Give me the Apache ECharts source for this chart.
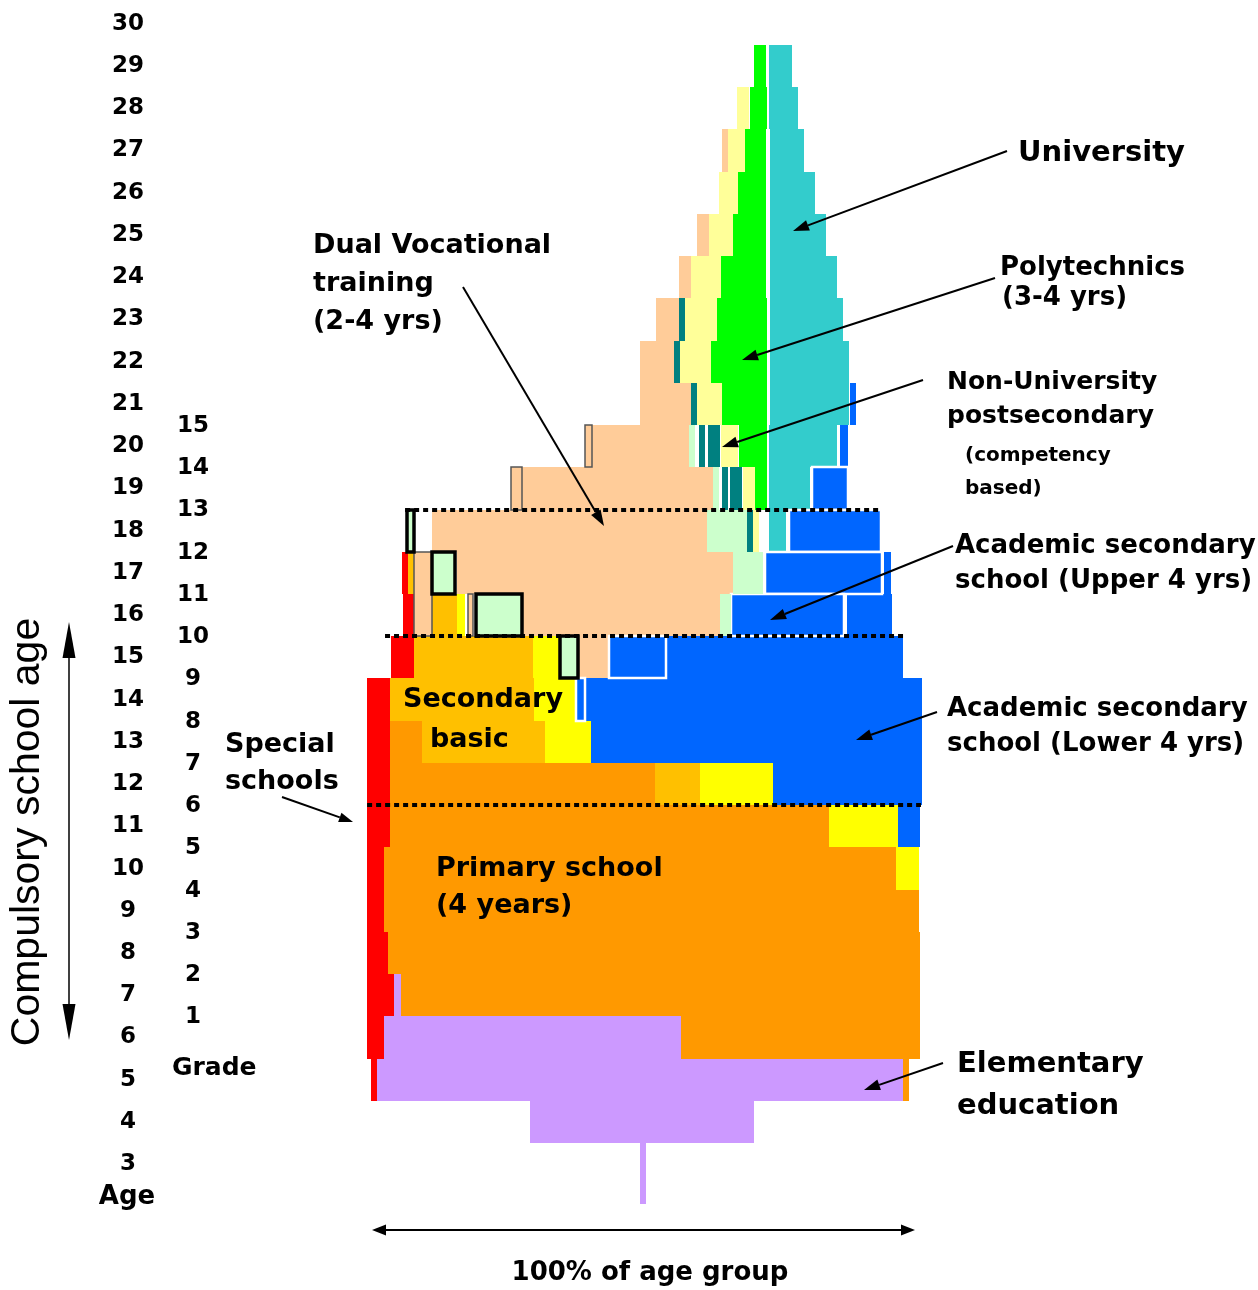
<!DOCTYPE html>
<html>
<head>
<meta charset="utf-8">
<script src="https://cdn.jsdelivr.net/npm/echarts@6.0.0/dist/echarts.min.js"></script>
<style>
  html, body { margin: 0; padding: 0; background: #fff; }
  #chart { width: 1258px; height: 1290px; }
</style>
</head>
<body>
<div id="chart"></div>
<script>
// age rows and grade labels
var ages = [3, 4, 5, 6, 7, 8, 9, 10, 11, 12, 13, 14, 15, 16, 17, 18, 19, 20, 21, 22, 23, 24, 25, 26, 27, 28, 29, 30]
var grades = [1, 2, 3, 4, 5, 6, 7, 8, 9, 10, 11, 12, 13, 14, 15]

// segments: [age, from %, to %, rows spanned (default 1), border]
// border: 'w' white frame, 'k' black frame, 'g' thin grey frame
var specialSchools = [
  [17, 5.5, 6.6], [16, 5.7, 8.8], [15, 3.5, 7.7], [14, -0.9, 3.3], [13, -0.9, 3.3],
  [12, -0.9, 3.3], [11, -0.9, 3.3], [10, -0.9, 2.2], [9, -0.9, 2.2], [8, -0.9, 2.9],
  [7, -0.9, 4.1], [6, -0.9, 2.2], [5, -0.2, 0.9]
]
var primarySchool = [
  [13, 3.3, 9.3], [12, 3.3, 52.1], [11, 3.3, 84.2], [10, 2.2, 96.5], [9, 2.2, 100.7],
  [8, 2.9, 100.9], [7, 5.3, 100.9], [6, 56.9, 100.9], [5, 97.8, 98.9]
]
var secondaryBasic = [
  [17, 6.6, 7.7], [16, 8.8, 15.7], [15, 7.7, 29.7], [14, 3.3, 29.8], [13, 9.3, 31.9], [12, 52.1, 60.4]
]
var secondaryOther = [
  [16, 15.7, 17.1], [15, 29.7, 34.4], [14, 29.8, 37.6], [13, 31.9, 40.3], [12, 60.4, 73.8],
  [11, 84.2, 96.9], [10, 96.5, 100.7]
]
var academicSecondary = [
  [21, 88.0, 89.1], [20, 86.2, 87.7], [17, 94.3, 95.6], [16, 87.5, 95.8], [15, 54.2, 97.8],
  [14, 39.2, 101.2], [13, 40.3, 101.2], [12, 73.8, 101.2], [11, 96.9, 100.9],
  [19, 81.0, 87.7, 1, 'w'], [18, 76.8, 93.7, 1, 'w'], [17, 72.4, 93.9, 1, 'w'],
  [16, 66.1, 86.9, 1, 'w'], [15, 43.6, 54.2, 1, 'w'], [14, 37.6, 39.2, 1, 'w']
]
var dualVocational = [
  [27, 64.5, 65.6], [25, 59.9, 62.1], [24, 56.5, 58.8], [23, 52.3, 56.5], [22, 49.4, 55.6],
  [21, 49.4, 58.8], [20, 40.5, 58.4], [19, 27.6, 62.8], [18, 11.0, 61.7], [17, 15.7, 66.5],
  [16, 27.6, 64.1], [15, 37.9, 43.6],
  [20, 39.2, 40.5, 1, 'g'], [19, 25.6, 27.6, 1, 'g'], [17, 7.7, 11.0, 2, 'g'], [16, 17.7, 18.6, 1, 'g']
]
var postsecOther = [
  [28, 67.2, 69.4], [27, 65.6, 68.7], [26, 63.9, 67.4], [25, 62.1, 66.5], [24, 58.8, 64.3],
  [23, 57.6, 63.5], [22, 56.7, 62.4], [21, 59.9, 64.5], [20, 64.3, 67.4], [19, 68.3, 70.5],
  [18, 70.2, 71.3]
]
var polytechnics = [
  [29, 70.3, 72.5], [28, 69.6, 72.7], [27, 68.7, 72.6], [26, 67.4, 72.6], [25, 66.5, 72.6],
  [24, 64.3, 72.6], [23, 63.5, 72.7], [22, 62.4, 72.7], [21, 64.5, 72.7], [20, 67.6, 72.7],
  [19, 70.5, 72.7]
]
var university = [
  [29, 73.1, 77.3], [28, 73.1, 78.5], [27, 73.3, 79.6], [26, 73.3, 81.6], [25, 73.3, 83.6],
  [24, 73.3, 85.6], [23, 73.3, 86.7], [22, 73.3, 87.8], [21, 73.3, 87.8], [20, 73.1, 85.6],
  [19, 73.1, 80.7], [18, 73.1, 76.2]
]
var nonUniversity = [
  [23, 56.5, 57.6], [22, 55.6, 56.7], [21, 58.8, 59.9], [20, 60.2, 61.3], [20, 61.9, 64.1],
  [19, 64.5, 65.6], [19, 65.9, 68.1], [18, 69.1, 70.2]
]
var bridging = [
  [20, 58.4, 59.5], [19, 62.8, 63.9], [18, 61.7, 69.1], [17, 66.5, 72.0], [16, 64.1, 66.1],
  [18, 6.5, 7.7, 1, 'k'], [17, 11.0, 15.3, 1, 'k'], [16, 19.2, 27.6, 1, 'k'], [15, 34.6, 37.9, 1, 'k']
]
var elementary = [
  [7, 4.1, 5.3], [6, 2.2, 56.9], [5, 0.9, 97.8], [4, 29.1, 70.3], [3, 49.4, 50.5, 1.45]
]
// dotted transitions: [row boundary age, from %, to %]
var transitions = [[18.5, 6.1, 93.6], [15.5, 2.4, 97.8], [11.5, -0.9, 101.1]]

var font = '"DejaVu Sans", sans-serif'

// draw one block per segment, snapped to whole pixels so rows join without seams
function blockRenderer (rows) {
  return function (params, api) {
    var r = rows[params.dataIndex]
    var span = r[3] || 1
    var p0 = api.coord([r[1], r[0] + 0.5])
    var p1 = api.coord([r[2], r[0] + 0.5 - span])
    var x0 = Math.round(p0[0])
    var y0 = Math.round(p0[1])
    var x1 = Math.round(p1[0])
    var y1 = Math.round(p1[1])
    var style = { fill: api.visual('color') }
    if (r[4] === 'w') { style.stroke = '#fff'; style.lineWidth = 2.5 }
    if (r[4] === 'k') { style.stroke = '#000'; style.lineWidth = 3.5 }
    if (r[4] === 'g') { style.stroke = '#555'; style.lineWidth = 1.5 }
    return {
      type: 'rect',
      shape: { x: x0, y: y0, width: x1 - x0, height: y1 - y0 },
      style: style,
      z2: r[4] ? 5 : 0
    }
  }
}

function blockSeries (name, color, rows, z) {
  return {
    type: 'custom',
    name: name,
    renderItem: blockRenderer(rows),
    itemStyle: { color: color },
    encode: { x: [0, 2], y: 1 },
    data: rows.map(function (r) { return [r[1], r[0], r[2]] }),
    z: z,
    silent: true,
    animation: false
  }
}

// arrow drawn in pixels for the annotation pointers
function arrow (x1, y1, x2, y2, lw, head, wide) {
  var a = Math.atan2(y2 - y1, x2 - x1)
  var bx = x2 - head * Math.cos(a)
  var by = y2 - head * Math.sin(a)
  var nx = -Math.sin(a) * wide / 2
  var ny = Math.cos(a) * wide / 2
  return [
    { type: 'line', z: 100, shape: { x1: x1, y1: y1, x2: bx, y2: by }, style: { stroke: '#000', lineWidth: lw } },
    { type: 'polygon', z: 100, shape: { points: [[x2, y2], [bx + nx, by + ny], [bx - nx, by - ny]] }, style: { fill: '#000' } }
  ]
}

function label (text, x, y, size, align, weight) {
  return {
    type: 'text', z: 100, x: x, y: y,
    style: {
      text: text, fill: '#000',
      font: (weight || 'bold') + ' ' + size + 'px ' + font,
      align: align || 'left', verticalAlign: 'middle',
      textAlign: align || 'left', textVerticalAlign: 'middle'
    }
  }
}

var texts = [
  label('University', 1018, 153, 29),
  label('Polytechnics', 1000, 268, 26),
  label('(3-4 yrs)', 1002, 298, 26),
  label('Non-University', 947, 382, 25),
  label('postsecondary', 947, 416, 25),
  label('(competency', 965, 456, 20),
  label('based)', 965, 489, 20),
  label('Academic secondary', 955, 546, 26),
  label('school (Upper 4 yrs)', 955, 581, 26),
  label('Academic secondary', 947, 709, 26),
  label('school (Lower 4 yrs)', 947, 744, 26),
  label('Elementary', 957, 1064, 29),
  label('education', 957, 1106, 29),
  label('Dual Vocational', 313, 246, 27),
  label('training', 313, 284, 27),
  label('(2-4 yrs)', 313, 322, 27),
  label('Secondary', 403, 700, 27),
  label('basic', 430, 740, 27),
  label('Primary school', 436, 869, 27),
  label('(4 years)', 436, 906, 27),
  label('Special', 225, 745, 27),
  label('schools', 225, 782, 27),
  label('Grade', 172, 1068, 25),
  label('Age', 127, 1197, 26, 'center'),
  label('100% of age group', 650, 1273, 26, 'center'),
  {
    type: 'text', z: 100, x: 28, y: 832, rotation: Math.PI / 2,
    style: {
      text: 'Compulsory school age', fill: '#000', font: '41px "Liberation Sans", sans-serif',
      align: 'center', verticalAlign: 'middle', textAlign: 'center', textVerticalAlign: 'middle'
    }
  }
]

var pointers = [].concat(
  arrow(1007, 151, 793, 231, 2, 16, 11),
  arrow(995, 278, 742, 360, 2, 16, 11),
  arrow(923, 380, 722, 447, 2, 16, 11),
  arrow(953, 546, 770, 620, 2, 16, 11),
  arrow(937, 712, 856, 740, 2, 16, 11),
  arrow(943, 1063, 864, 1090, 2, 16, 11),
  arrow(463, 287, 604, 526, 2, 16, 11),
  arrow(282, 797, 353, 822, 2, 14, 10),
  arrow(69, 831, 69, 622, 1.5, 36, 13),
  arrow(69, 831, 69, 1040, 1.5, 36, 13),
  arrow(643, 1230, 372, 1230, 2, 14, 11),
  arrow(643, 1230, 915, 1230, 2, 14, 11)
)

var chart = echarts.init(document.getElementById('chart'), null, { renderer: 'canvas' })

var option = {
  animation: false,
  backgroundColor: '#fff',
  grid: { left: 372, top: 23.74, width: 543, height: 1182.72, containLabel: false, outerBoundsMode: 'none' },
  xAxis: {
    type: 'value', min: 0, max: 100,
    show: false
  },
  yAxis: {
    type: 'value', min: 2, max: 30, interval: 1,
    axisLine: { show: false },
    axisTick: { show: false },
    splitLine: { show: false },
    axisLabel: {
      margin: 244,
      align: 'center',
      padding: [0, 0, 8, 0],
      color: '#000',
      fontFamily: font,
      fontWeight: 'bold',
      fontSize: 23,
      formatter: function (v) { return ages.indexOf(v) >= 0 ? String(v) : '' }
    }
  },
  graphic: { elements: texts.concat(pointers) },
  series: [
    blockSeries('Elementary education', '#cc99ff', elementary, 2),
    blockSeries('Primary school', '#ff9900', primarySchool, 2),
    blockSeries('Secondary basic', '#ffc000', secondaryBasic, 2),
    blockSeries('Secondary basic, other', '#ffff00', secondaryOther, 2),
    blockSeries('Special schools', '#ff0000', specialSchools, 2),
    blockSeries('Dual vocational training', '#ffcc99', dualVocational, 3),
    blockSeries('Other postsecondary', '#ffff99', postsecOther, 2),
    blockSeries('Polytechnics', '#00ff00', polytechnics, 2),
    blockSeries('University', '#33cccc', university, 2),
    blockSeries('Non-University postsecondary', '#008080', nonUniversity, 2),
    blockSeries('Academic secondary school', '#0066ff', academicSecondary, 3),
    blockSeries('Bridging courses', '#ccffcc', bridging, 4),
    {
      type: 'custom',
      name: 'transitions',
      silent: true,
      z: 6,
      encode: { x: [0, 2], y: 1 },
      data: transitions.map(function (t) { return [t[1], t[0], t[2]] }),
      renderItem: function (params, api) {
        var t = transitions[params.dataIndex]
        var a = api.coord([t[1], t[0]])
        var b = api.coord([t[2], t[0]])
        return {
          type: 'line',
          shape: { x1: a[0], y1: Math.round(a[1]), x2: b[0], y2: Math.round(b[1]) },
          style: { stroke: '#000', lineWidth: 4, lineDash: [5, 4] }
        }
      }
    },
    {
      type: 'custom',
      name: 'grades',
      silent: true,
      z: 6,
      encode: { x: 0, y: 1 },
      data: grades.map(function (g) { return [0, g + 5.5] }),
      renderItem: function (params, api) {
        var g = grades[params.dataIndex]
        var p = api.coord([0, g + 5.5])
        return {
          type: 'text',
          x: 193, y: p[1] + 1,
          style: {
            text: String(g), fill: '#000', font: 'bold 23px ' + font,
            align: 'center', verticalAlign: 'middle', textAlign: 'center', textVerticalAlign: 'middle'
          }
        }
      }
    }
  ]
}
chart.setOption(option)
</script>
</body>
</html>
